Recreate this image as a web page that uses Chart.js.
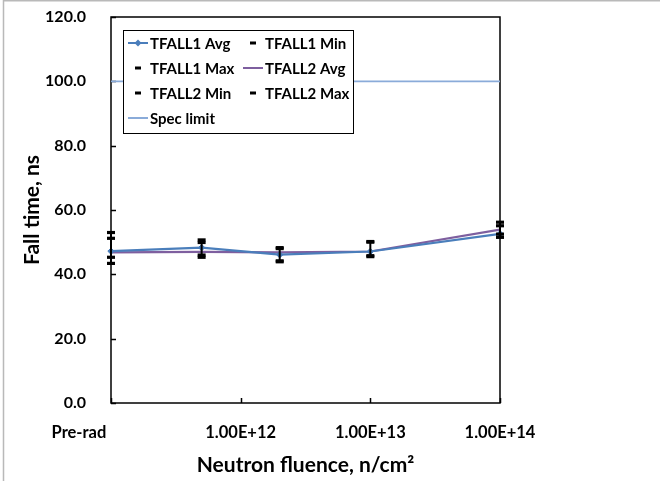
<!DOCTYPE html>
<html>
<head>
<meta charset="utf-8">
<script src="https://cdn.jsdelivr.net/npm/chart.js@4/dist/chart.umd.min.js"></script>
<style>
  html, body { margin: 0; padding: 0; background: #fff; }
  #wrap { width: 660px; height: 481px; position: relative; }
</style>
</head>
<body>
<div id="wrap"><canvas id="c" width="660" height="481"></canvas></div>
<script>
// ---- data ----
const fluence = [1e11, 5e11, 2e12, 1e13, 1e14];
const xTickValues = [1e11, 1e12, 1e13, 1e14];
const xTickLabels = ['Pre-rad', '1.00E+12', '1.00E+13', '1.00E+14'];
const tfall1Avg = [47.2, 48.3, 46.1, 47.1, 52.6];
const tfall1Min = [43.4, 45.3, 43.9, 45.5, 51.5];
const tfall1Max = [51.2, 49.9, 48.0, 50.0, 55.1];
const tfall2Avg = [46.8, 47.0, 46.8, 47.1, 53.9];
const tfall2Min = [45.3, 46.0, 44.2, 45.8, 52.5];
const tfall2Max = [53.0, 50.7, 48.3, 50.2, 56.2];
const specFluence = [1e11, 1e14];
const specLimit = [100, 100];
const seriesNames = ['TFALL1 Avg', 'TFALL1 Min', 'TFALL1 Max', 'TFALL2 Avg', 'TFALL2 Min', 'TFALL2 Max', 'Spec limit'];

const BLUE = '#4A7EBB', PURPLE = '#7E5F9F', SPEC = '#8AABD9', BLACK = '#000000';
const FONT = 'Lato, "Open Sans", "Liberation Sans", sans-serif';

const pts = (xs, ys) => xs.map((x, i) => ({ x: x, y: ys[i] }));

// high-low lines connecting the extremes at each fluence
const allSeries = [tfall1Avg, tfall1Min, tfall1Max, tfall2Avg, tfall2Min, tfall2Max];
const hiLo = [];
fluence.forEach((x, i) => {
  const vals = allSeries.map(s => s[i]);
  hiLo.push({ x: x, y: Math.max(...vals) });
  hiLo.push({ x: x, y: Math.min(...vals) });
  hiLo.push({ x: x, y: null });
});

const markerDs = (label, ys) => ({
  label, data: pts(fluence, ys), showLine: false, clip: false,
  pointStyle: 'line', pointRadius: 4, pointBorderWidth: 3.2,
  borderColor: BLACK, backgroundColor: BLACK, pointHoverRadius: 4
});

const datasets = [
  { label: '_hilo', data: hiLo, borderColor: BLACK, borderWidth: 2, pointRadius: 0, spanGaps: false, tension: 0, clip: false },
  markerDs(seriesNames[1], tfall1Min),
  markerDs(seriesNames[2], tfall1Max),
  markerDs(seriesNames[4], tfall2Min),
  markerDs(seriesNames[5], tfall2Max),
  { label: seriesNames[0], data: pts(fluence, tfall1Avg), borderColor: BLUE, backgroundColor: BLUE, clip: false,
    borderWidth: 2.2, pointStyle: 'rectRot', pointRadius: 3.2, pointBorderWidth: 1, tension: 0 },
  { label: seriesNames[3], data: pts(fluence, tfall2Avg), borderColor: PURPLE, backgroundColor: PURPLE,
    borderWidth: 2.2, pointRadius: 0, tension: 0 },
  { label: seriesNames[6], data: pts(specFluence, specLimit), borderColor: SPEC, backgroundColor: SPEC,
    borderWidth: 1.8, pointRadius: 0, tension: 0 }
];

const decor = {
  id: 'decor',
  beforeDraw(chart) {
    const ctx = chart.ctx;
    ctx.save();
    ctx.fillStyle = '#fff';
    ctx.fillRect(0, 0, chart.width, chart.height);
    ctx.strokeStyle = '#b9b9b9';
    ctx.lineWidth = 1.5;
    ctx.beginPath();
    ctx.moveTo(3, 0.75); ctx.lineTo(chart.width, 0.75);
    ctx.moveTo(3.5, 0); ctx.lineTo(3.5, chart.height);
    ctx.stroke();
    ctx.restore();
  },
  beforeDatasetsDraw(chart) {
    const ctx = chart.ctx, a = chart.chartArea;
    const xs = chart.scales.x, ys = chart.scales.y;
    ctx.save();
    ctx.strokeStyle = '#000';
    ctx.lineWidth = 1.5;
    ctx.strokeRect(a.left, a.top, a.right - a.left, a.bottom - a.top);
    ctx.beginPath();
    ys.ticks.forEach(t => {
      const y = Math.round(ys.getPixelForValue(t.value)) + 0.5;
      ctx.moveTo(a.left, y); ctx.lineTo(a.left + 5, y);
    });
    xs.ticks.forEach(t => {
      const x = Math.round(xs.getPixelForValue(t.value)) + 0.5;
      ctx.moveTo(x, a.bottom); ctx.lineTo(x, a.bottom - 5);
    });
    ctx.stroke();
    ctx.restore();
  },
  afterDatasetsDraw(chart) {
    const ctx = chart.ctx;
    const box = { x: 123, y: 30, w: 230, h: 103 };
    ctx.save();
    ctx.fillStyle = '#fff';
    ctx.fillRect(box.x, box.y, box.w, box.h);
    ctx.strokeStyle = '#000';
    ctx.lineWidth = 1;
    ctx.strokeRect(box.x + 0.5, box.y + 0.5, box.w, box.h);
    const items = [
      { i: 0, kind: 'avgm', color: BLUE }, { i: 1, kind: 'dash' },
      { i: 2, kind: 'dash' }, { i: 3, kind: 'avg', color: PURPLE },
      { i: 4, kind: 'dash' }, { i: 5, kind: 'dash' },
      { i: 6, kind: 'line', color: SPEC }
    ];
    const rowsY = [43, 68, 93, 118];
    const colSym = [128, 243];
    const colText = [150, 265];
    ctx.font = 'bold 15px ' + FONT;
    ctx.textBaseline = 'middle';
    ctx.textAlign = 'left';
    items.forEach((it, k) => {
      const r = Math.floor(k / 2), c = k % 2;
      const y = rowsY[r];
      const sx = colSym[c];
      if (it.kind === 'dash') {
        ctx.strokeStyle = '#000'; ctx.lineWidth = 3;
        ctx.beginPath(); ctx.moveTo(sx + 7, y); ctx.lineTo(sx + 13, y); ctx.stroke();
      } else {
        ctx.strokeStyle = it.color; ctx.lineWidth = 2;
        ctx.beginPath(); ctx.moveTo(sx, y); ctx.lineTo(sx + 20, y); ctx.stroke();
        if (it.kind === 'avgm') {
          ctx.fillStyle = it.color;
          ctx.beginPath();
          ctx.moveTo(sx + 10, y - 3.5); ctx.lineTo(sx + 13.5, y); ctx.lineTo(sx + 10, y + 3.5); ctx.lineTo(sx + 6.5, y);
          ctx.closePath(); ctx.fill();
        }
      }
      ctx.fillStyle = '#000';
      ctx.fillText(seriesNames[it.i], colText[c], y + 1);
    });
    ctx.restore();
  }
};

new Chart(document.getElementById('c'), {
  type: 'line',
  data: { datasets },
  options: {
    responsive: false,
    animation: false,
    events: [],
    layout: { padding: { left: 0, top: 17, right: 160, bottom: 0 } },
    plugins: { legend: { display: false }, tooltip: { enabled: false } },
    scales: {
      x: {
        type: 'logarithmic', min: 1e11, max: 1e14,
        grid: { display: false },
        border: { display: false },
        afterBuildTicks: s => { s.ticks = xTickValues.map(v => ({ value: v, major: true })); },
        afterFit: s => { s.height = 78; s.paddingLeft = 0; s.paddingRight = 0; },
        ticks: {
          autoSkip: false, maxRotation: 0, padding: 12, color: '#000',
          font: { family: FONT, size: 16.5, weight: 'bold' },
          callback: (v, i) => i === 0 ? xTickLabels[i] + '\u00a0'.repeat(16) : xTickLabels[i]
        },
        title: { display: true, text: 'Neutron fluence, n/cm\u00b2', color: '#000',
          font: { family: FONT, size: 21, weight: 'bold' }, padding: { top: 0, bottom: 3 } }
      },
      y: {
        min: 0, max: 120,
        grid: { display: false },
        border: { display: false },
        afterFit: s => { s.width = 111; s.paddingTop = 0; s.paddingBottom = 0; },
        ticks: { stepSize: 20, padding: 17, color: '#000',
          font: { family: FONT, size: 16, weight: 'bold' },
          callback: v => Number(v).toFixed(1) },
        title: { display: true, text: 'Fall time, ns', color: '#000',
          font: { family: FONT, size: 21, weight: 'bold' }, padding: { top: 20, bottom: 0 } }
      }
    }
  },
  plugins: [decor]
});
</script>
</body>
</html>
